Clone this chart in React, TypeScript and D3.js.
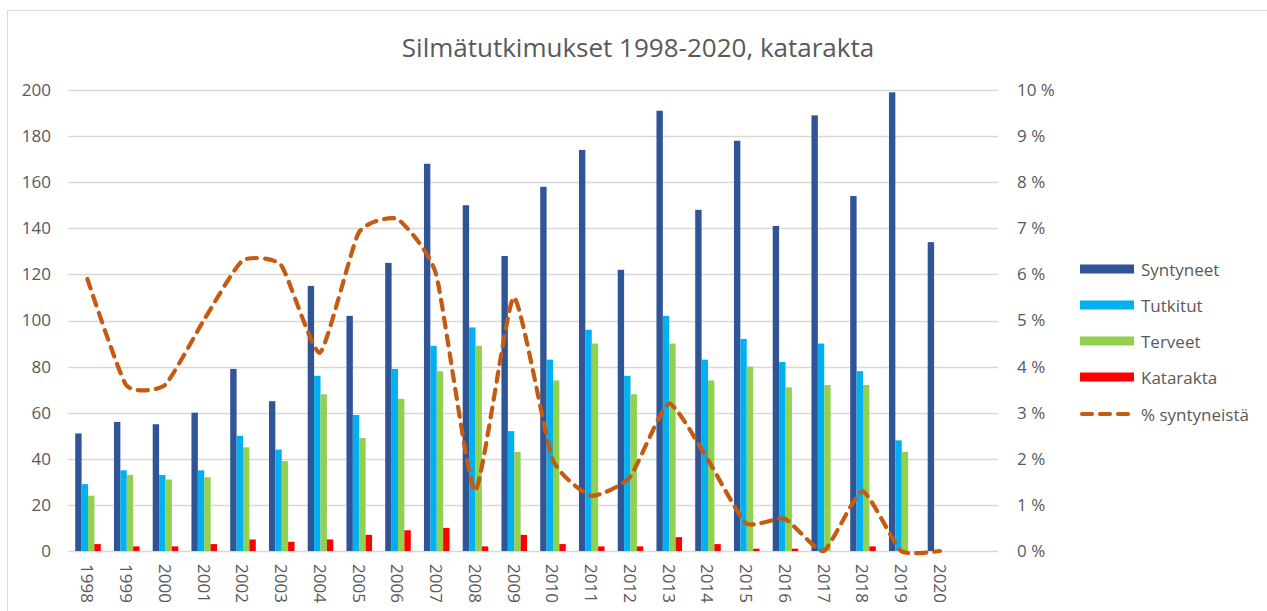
import React, { useEffect, useRef } from 'react';
import * as d3 from 'd3';

const width = 1267, height = 611;
const margin = { top: 90, right: 269, left: 68, bottom: 60 };
const fontFamily = '"Open Sans", "Liberation Sans", sans-serif';
const textColor = '#595959';
const gridColor = '#D9D9D9';

// chart data
const years = ['1998', '1999', '2000', '2001', '2002', '2003', '2004', '2005', '2006', '2007', '2008',
    '2009', '2010', '2011', '2012', '2013', '2014', '2015', '2016', '2017', '2018', '2019', '2020'];
const syntyneet = [51, 56, 55, 60, 79, 65, 115, 102, 125, 168, 150, 128, 158, 174, 122, 191, 148, 178, 141, 189, 154, 199, 134];
const tutkitut = [29, 35, 33, 35, 50, 44, 76, 59, 79, 89, 97, 52, 83, 96, 76, 102, 83, 92, 82, 90, 78, 48, 0];
const terveet = [24, 33, 31, 32, 45, 39, 68, 49, 66, 78, 89, 43, 74, 90, 68, 90, 74, 80, 71, 72, 72, 43, 0];
const katarakta = [3, 2, 2, 3, 5, 4, 5, 7, 9, 10, 2, 7, 3, 2, 2, 6, 3, 1, 1, 0, 2, 0, 0];
// % syntyneistä
const osuus = [5.9, 3.6, 3.6, 5.0, 6.3, 6.2, 4.3, 6.9, 7.2, 6.0, 1.3, 5.5, 2.0, 1.2, 1.6, 3.2, 2.0, 0.6, 0.7, 0, 1.3, 0, 0];

const leftTicks = [0, 20, 40, 60, 80, 100, 120, 140, 160, 180, 200];
const rightTicks = [0, 1, 2, 3, 4, 5, 6, 7, 8, 9, 10];

const barSeries = [
    { name: 'Syntyneet', values: syntyneet, color: '#2F5597' },
    { name: 'Tutkitut', values: tutkitut, color: '#00B0F0' },
    { name: 'Terveet', values: terveet, color: '#92D050' },
    { name: 'Katarakta', values: katarakta, color: '#FF0000' },
];
const lineName = '% syntyneistä';
const lineColor = '#C55A11';

export default function App() {
    const xAxisRef = useRef<SVGGElement>(null);
    const yAxisRef = useRef<SVGGElement>(null);
    const y2AxisRef = useRef<SVGGElement>(null);

    const plotRight = width - margin.right;
    const y0 = 551;

    // the plot holds one empty slot after 2020
    const step = (plotRight - margin.left) / (years.length + 1);
    const xScale = d3.scaleBand()
        .domain(years)
        .range([margin.left, margin.left + step * years.length]);

    const xInner = d3.scaleBand()
        .domain(barSeries.map(s => s.name))
        .range([step * 0.186, step * 0.846]);

    const yScale = d3.scaleLinear().domain([0, 200]).range([y0, margin.top]);
    const y2Scale = d3.scaleLinear().domain([0, 10]).range([y0, margin.top]);

    // smoothed line, a bit tighter than catmull-rom
    const line = d3.line<number>()
        .x((d, i) => (xScale(years[i]) as number) + xScale.bandwidth() / 2)
        .y(d => y2Scale(d))
        .curve(d3.curveCardinal.tension(0.5));

    useEffect(() => {
        const yAxis = d3.axisLeft(yScale).tickValues(leftTicks).tickSize(0).tickPadding(17);
        const g = d3.select(yAxisRef.current).call(yAxis);
        g.select('.domain').remove();
        g.selectAll('text').attr('fill', textColor).style('font-size', '17px').style('font-family', fontFamily);

        const y2Axis = d3.axisRight(y2Scale).tickValues(rightTicks).tickSize(0).tickPadding(19)
            .tickFormat(d => `${d} %`);
        const g2 = d3.select(y2AxisRef.current).call(y2Axis);
        g2.select('.domain').remove();
        g2.selectAll('text').attr('fill', textColor).style('font-size', '17px').style('font-family', fontFamily);

        const xAxis = d3.axisBottom(xScale).tickSize(0);
        const g3 = d3.select(xAxisRef.current).call(xAxis);
        g3.select('.domain').remove();
        g3.selectAll('text')
            .attr('fill', textColor)
            .style('font-size', '17px')
            .style('font-family', fontFamily)
            .attr('transform', 'rotate(90)')
            .attr('x', 13)
            .attr('y', 0)
            .attr('dy', '0.35em')
            .attr('text-anchor', 'start');
    }, []);

    return (
        <div style={{ position: 'absolute', left: 0, top: 0 }}>
            <svg width={width} height={height} style={{ display: 'block', background: '#fff' }}>
                <rect x={7.5} y={10.5} width={width} height={height} fill="none" stroke={gridColor} />
                <text x={638} y={47} textAnchor="middle" dominantBaseline="central"
                    fontFamily={fontFamily} fontSize={26} fill={textColor}>
                    Silmätutkimukset 1998-2020, katarakta
                </text>

                {/* gridlines */}
                {leftTicks.map(t => (
                    <line key={t} x1={margin.left} x2={plotRight} y1={Math.round(yScale(t)) + 0.5}
                        y2={Math.round(yScale(t)) + 0.5} stroke={gridColor} strokeWidth={1.3} />
                ))}

                {/* bars */}
                {barSeries.map(s => (
                    <g key={s.name} fill={s.color}>
                        {s.values.map((v, i) => (
                            <rect key={i}
                                x={(xScale(years[i]) as number) + (xInner(s.name) as number)}
                                width={xInner.bandwidth()}
                                y={yScale(v)}
                                height={y0 - yScale(v)} />
                        ))}
                    </g>
                ))}

                <path d={line(osuus) || ''} fill="none" stroke={lineColor} strokeWidth={4.2}
                    strokeDasharray="10 8" strokeLinecap="round" />

                <g ref={yAxisRef} transform={`translate(${margin.left}, 0)`} />
                <g ref={y2AxisRef} transform={`translate(${plotRight}, 0)`} />
                <g ref={xAxisRef} transform={`translate(0, ${y0})`} />

                {/* legend */}
                <g fontFamily={fontFamily} fontSize={17} fill={textColor}>
                    {barSeries.map((s, i) => (
                        <g key={s.name} transform={`translate(1080, ${269 + i * 36})`}>
                            <rect x={0} y={-4.5} width={54} height={9} fill={s.color} />
                            <text x={61} y={0} dominantBaseline="central">{s.name}</text>
                        </g>
                    ))}
                    <g transform={`translate(1080, ${269 + 4 * 36 + 1})`}>
                        <line x1={2} x2={52} y1={0} y2={0} stroke={lineColor} strokeWidth={4.2}
                            strokeDasharray="10 8" strokeLinecap="round" />
                        <text x={61} y={0} dominantBaseline="central">{lineName}</text>
                    </g>
                </g>
            </svg>
        </div>
    );
}
